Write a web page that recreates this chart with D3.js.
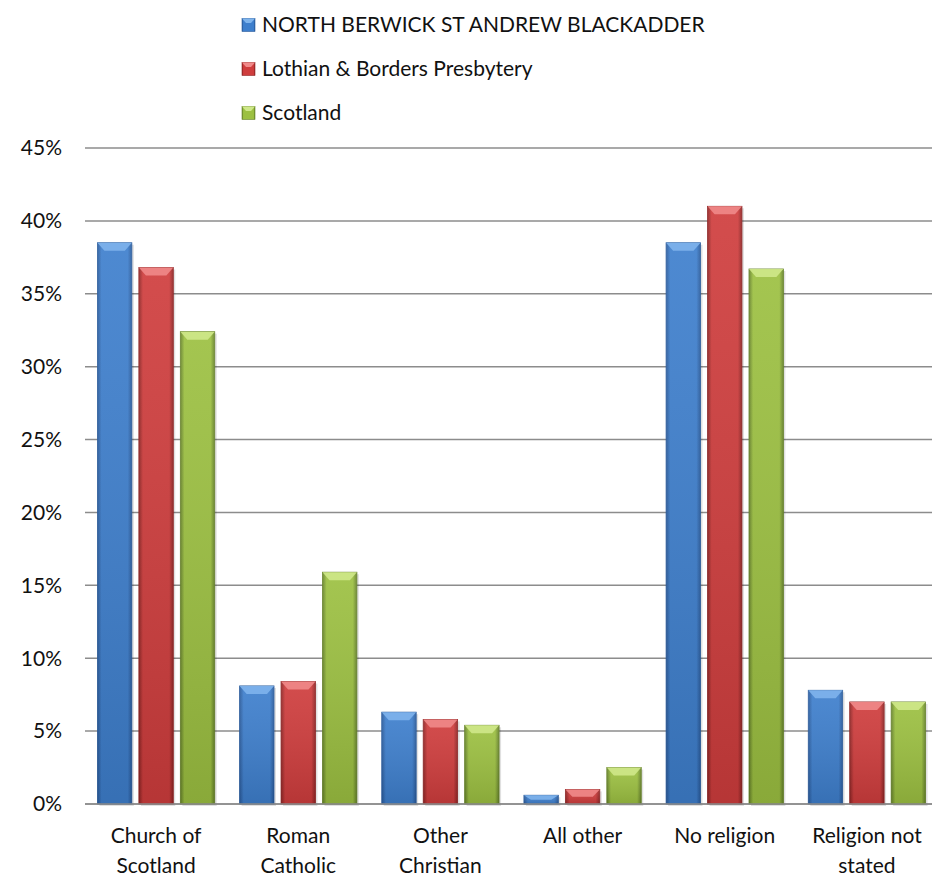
<!DOCTYPE html>
<html>
<head>
<meta charset="utf-8">
<script src="https://cdn.jsdelivr.net/npm/d3@7"></script>
<style>
  body { margin: 0; background: #fff; }
  text { font-family: Lato, "Open Sans", sans-serif; fill: #111; }
</style>
</head>
<body>
<div id="chart"></div>
<script>
var categories = [["Church of", "Scotland"], ["Roman", "Catholic"], ["Other", "Christian"], ["All other"], ["No religion"], ["Religion not", "stated"]];
var seriesNames = ["NORTH BERWICK ST ANDREW BLACKADDER", "Lothian & Borders Presbytery", "Scotland"];
var northBerwick = [38.5, 8.1, 6.3, 0.6, 38.5, 7.8];
var lothian = [36.8, 8.4, 5.8, 1.0, 41.0, 7.0];
var scotland = [32.4, 15.9, 5.4, 2.5, 36.7, 7.0];
var yTicks = [0, 5, 10, 15, 20, 25, 30, 35, 40, 45];

var seriesValues = [northBerwick, lothian, scotland];
var colours = [
    { main: "#3e7fcd", dark: "#2a5b9c", light: "#7fb4ec" },
    { main: "#cf3d3d", dark: "#8f2525", light: "#f08a8a" },
    { main: "#9cc041", dark: "#66822a", light: "#cfe88a" }
];

const width = 932;
const height = 877;
const fontSize = "21px";

let svg = d3.select("#chart").append("svg")
    .attr("width", width)
    .attr("height", height);

let defs = svg.append("defs");
colours.forEach(function(c, i) {
    let g = defs.append("linearGradient")
        .attr("id", "grad" + i)
        .attr("x1", "0%").attr("x2", "100%")
        .attr("y1", "0%").attr("y2", "0%");
    g.append("stop").attr("offset", "0%").attr("stop-color", c.dark);
    g.append("stop").attr("offset", "12%").attr("stop-color", c.main);
    g.append("stop").attr("offset", "88%").attr("stop-color", c.main);
    g.append("stop").attr("offset", "100%").attr("stop-color", c.dark);
    let v = defs.append("linearGradient")
        .attr("id", "shade" + i)
        .attr("x1", "0%").attr("x2", "0%")
        .attr("y1", "0%").attr("y2", "100%");
    v.append("stop").attr("offset", "0%").attr("stop-color", "#fff").attr("stop-opacity", 0.08);
    v.append("stop").attr("offset", "100%").attr("stop-color", "#000").attr("stop-opacity", 0.12);
});

const yScale = d3.scaleLinear()
    .domain([0, 45])
    .range([804, 148]);

const x0 = d3.scaleBand()
    .domain(d3.range(categories.length))
    .range([85, 938])
    .padding(0);

const x1 = d3.scaleBand()
    .domain(d3.range(seriesNames.length))
    .range([0, x0.bandwidth()])
    .paddingInner(0.17)
    .paddingOuter(0.3);

// gridlines
svg.append("g")
    .selectAll("line")
    .data(yTicks)
    .enter()
    .append("line")
        .attr("x1", 85)
        .attr("x2", width)
        .attr("y1", d => yScale(d))
        .attr("y2", d => yScale(d))
        .attr("stroke", "#8c8c8c")
        .attr("stroke-width", 1.5);

// y-axis labels
svg.append("g")
    .selectAll("text")
    .data(yTicks)
    .enter()
    .append("text")
        .attr("x", 62)
        .attr("y", d => yScale(d))
        .attr("dy", "0.35em")
        .attr("text-anchor", "end")
        .style("font-size", fontSize)
        .text(d => d + "%");

// bars
let rows = [];
seriesValues.forEach(function(vals, s) {
    vals.forEach(function(v, c) {
        rows.push({ s: s, c: c, v: v });
    });
});

let bars = svg.append("g").selectAll("g")
    .data(rows)
    .enter()
    .append("g");

const bw = x1.bandwidth();

// soft shadow
bars.append("rect")
    .attr("x", d => x0(d.c) + x1(d.s) + 2)
    .attr("y", d => yScale(d.v) + 2)
    .attr("width", bw)
    .attr("height", d => yScale(0) - yScale(d.v))
    .attr("fill", "#000")
    .attr("opacity", 0.12);

bars.append("rect")
    .attr("x", d => x0(d.c) + x1(d.s))
    .attr("y", d => yScale(d.v))
    .attr("width", bw)
    .attr("height", d => yScale(0) - yScale(d.v))
    .attr("fill", d => "url(#grad" + d.s + ")")
    .attr("stroke", d => colours[d.s].dark)
    .attr("stroke-width", 0.8);

bars.append("rect")
    .attr("x", d => x0(d.c) + x1(d.s))
    .attr("y", d => yScale(d.v))
    .attr("width", bw)
    .attr("height", d => yScale(0) - yScale(d.v))
    .attr("fill", d => "url(#shade" + d.s + ")");

// top bevel
bars.append("path")
    .attr("d", function(d) {
        let x = x0(d.c) + x1(d.s);
        let y = yScale(d.v);
        let h = Math.min(8, (yScale(0) - y) / 2);
        return "M" + x + "," + y + "L" + (x + bw) + "," + y +
               "L" + (x + bw - 7) + "," + (y + h) + "L" + (x + 7) + "," + (y + h) + "Z";
    })
    .attr("fill", d => colours[d.s].light)
    .attr("opacity", 0.9);

// baseline
svg.append("line")
    .attr("x1", 85).attr("x2", width)
    .attr("y1", yScale(0)).attr("y2", yScale(0))
    .attr("stroke", "#8c8c8c")
    .attr("stroke-width", 1.5);

// category labels
let catG = svg.append("g").selectAll("text")
    .data(categories)
    .enter()
    .append("text")
        .attr("text-anchor", "middle")
        .style("font-size", fontSize);

catG.selectAll("tspan")
    .data((d, i) => d.map(line => ({ line: line, i: i })))
    .enter()
    .append("tspan")
        .attr("x", d => x0(d.i) + x0.bandwidth() / 2)
        .attr("y", (d, j) => 843 + j * 30)
        .text(d => d.line);

// legend
let legend = svg.append("g").selectAll("g")
    .data(seriesNames)
    .enter()
    .append("g")
        .attr("transform", (d, i) => "translate(242," + (25 + i * 44) + ")");

legend.append("rect")
    .attr("x", 0)
    .attr("y", -6.5)
    .attr("width", 13)
    .attr("height", 13)
    .attr("fill", (d, i) => "url(#grad" + i + ")")
    .attr("stroke", (d, i) => colours[i].dark)
    .attr("stroke-width", 0.6);

legend.append("path")
    .attr("d", "M0,-6.5L13,-6.5L9,-2L4,-2Z")
    .attr("fill", (d, i) => colours[i].light);

legend.append("text")
    .attr("x", 20)
    .attr("dy", "0.35em")
    .style("font-size", fontSize)
    .text(d => d);
</script>
</body>
</html>
